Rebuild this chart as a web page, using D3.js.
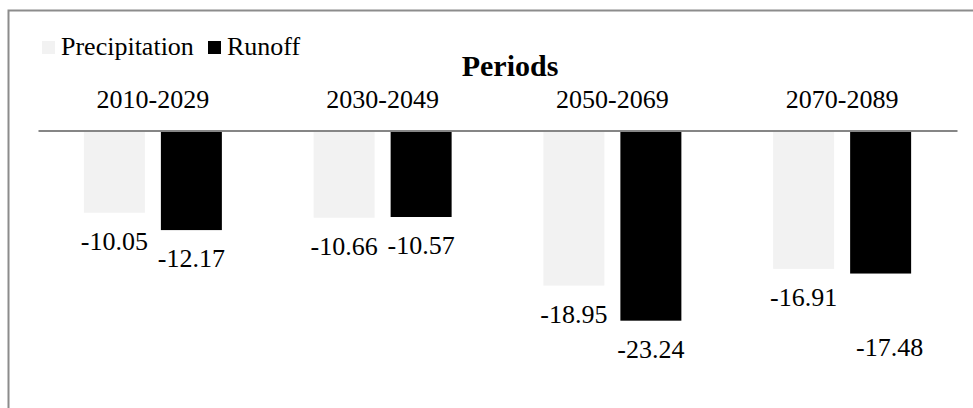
<!DOCTYPE html>
<meta charset="utf-8">
<style>
    body { margin: 0; background: #fff; }
    svg { display: block; }
    text { font-family: "Liberation Serif", "Times New Roman", serif; fill: #000; }
</style>
<script src="https://cdn.jsdelivr.net/npm/d3@7/dist/d3.min.js"></script>
<body>
<svg></svg>
</body>
<script>

    // data
    var periods = ['2010-2029', '2030-2049', '2050-2069', '2070-2089'];
    var series = ['Precipitation', 'Runoff'];
    var precipitation = [-10.05, -10.66, -18.95, -16.91];
    var runoff = [-12.17, -10.57, -23.24, -17.48];
    var colors = ['#f2f2f2', '#000000'];

    var width = 973, height = 408;
    var svg = d3.select('svg')
            .attr('width', width)
            .attr('height', height);

    // chart frame (runs off the right / bottom of the picture)
    svg.append('rect')
            .attr('x', 8.5).attr('y', 10.5)
            .attr('width', 1000).attr('height', 500)
            .style('fill', 'none')
            .style('stroke', '#8c8c8c')
            .style('stroke-width', 2);

    var x0 = d3.scaleBand().domain(periods).range([38, 957]);
    var x1 = d3.scaleBand().domain(series)
            .range([x0.bandwidth() / 2 - 69, x0.bandwidth() / 2 + 69])
            .paddingInner(0.208);
    var y = d3.scaleLinear().domain([0, -30]).range([130.5, 376]);

    // plain hyphen-minus like the original labels
    var fmt = d3.formatLocale({decimal: '.', thousands: ',', grouping: [3], currency: ['', ''], minus: '-'}).format('.2f');

    var rows = periods.map(function (p, i) {
        return {period: p, values: [precipitation[i], runoff[i]]};
    });

    var groups = svg.append('g').selectAll('g')
            .data(rows)
            .enter().append('g')
            .attr('transform', function (d) { return 'translate(' + x0(d.period) + ',0)'; });

    groups.selectAll('rect')
            .data(function (d) { return d.values.map(function (v, j) { return {s: series[j], v: v, j: j}; }); })
            .enter().append('rect')
            .attr('x', function (d) { return x1(d.s); })
            .attr('y', y(0))
            .attr('width', x1.bandwidth())
            .attr('height', function (d) { return y(d.v) - y(0); })
            .style('fill', function (d) { return colors[d.j]; });

    // data labels below the bar ends; the last one was nudged in the original
    groups.selectAll('text.lbl')
            .data(function (d, i) {
                return d.values.map(function (v, j) { return {s: series[j], v: v, last: i === 3 && j === 1}; });
            })
            .enter().append('text')
            .attr('class', 'lbl')
            .attr('x', function (d) { return x1(d.s) + x1.bandwidth() / 2 + (d.last ? 9 : 0); })
            .attr('y', function (d) { return y(d.v) + (d.last ? 82 : 37); })
            .attr('text-anchor', 'middle')
            .style('font-size', '26px')
            .text(function (d) { return fmt(d.v); });

    // axis at the top
    var axis = svg.append('g')
            .attr('transform', 'translate(0,' + y(0) + ')')
            .call(d3.axisTop(x0).tickSize(0).tickPadding(23));
    axis.select('.domain')
            .attr('stroke', '#868686')
            .attr('stroke-width', 2);
    axis.selectAll('text')
            .style('font-family', '"Liberation Serif", "Times New Roman", serif')
            .style('font-size', '26px')
            .attr('fill', '#000');

    svg.append('text')
            .attr('x', 510)
            .attr('y', 76)
            .attr('text-anchor', 'middle')
            .style('font-size', '30px')
            .style('font-weight', 'bold')
            .text('Periods');

    // legend
    var legendX = [42, 208];
    var legend = svg.append('g').selectAll('g')
            .data(series)
            .enter().append('g')
            .attr('transform', function (d, i) { return 'translate(' + legendX[i] + ',41)'; });
    legend.append('rect')
            .attr('width', 13).attr('height', 13)
            .style('fill', function (d, i) { return colors[i]; });
    legend.append('text')
            .attr('x', 19).attr('y', 14)
            .style('font-size', '26px')
            .text(function (d) { return d; });

</script>
</html>
